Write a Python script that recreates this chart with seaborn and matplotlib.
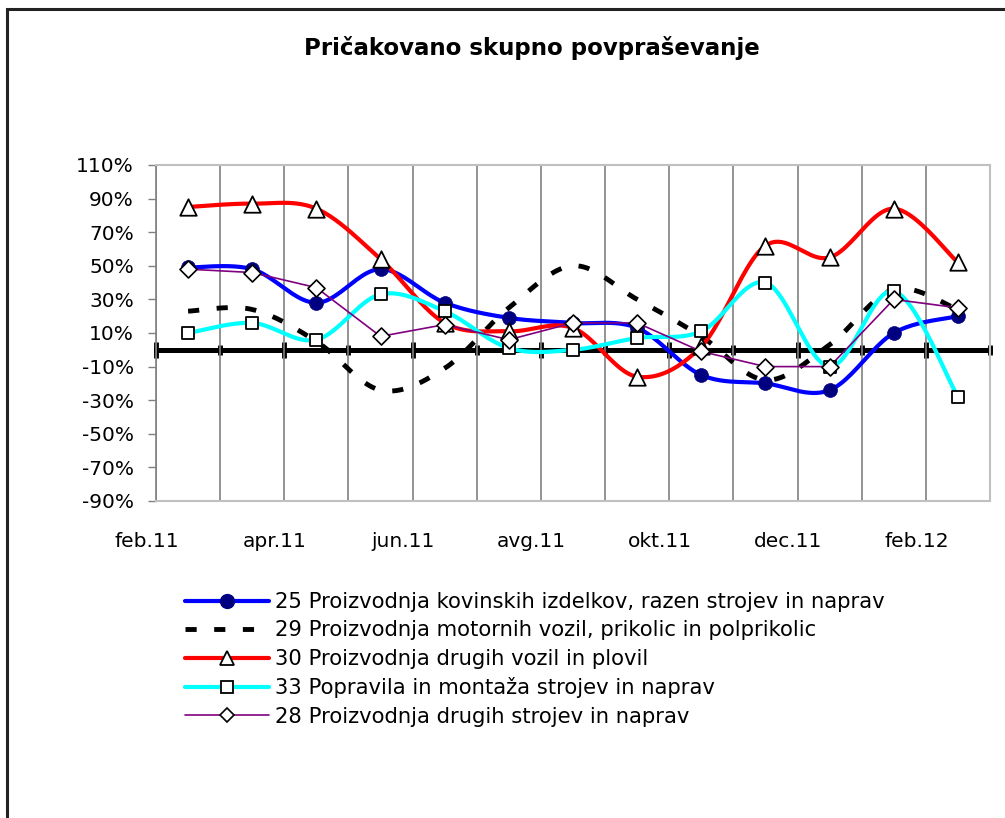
import numpy as np
import pandas as pd
import seaborn as sns
import matplotlib.pyplot as plt
import matplotlib.transforms as mtransforms
from matplotlib.lines import Line2D
from matplotlib.patches import Rectangle

# months on the category axis
months = ['feb.11', 'mar.11', 'apr.11', 'maj.11', 'jun.11', 'jul.11', 'avg.11',
          'sep.11', 'okt.11', 'nov.11', 'dec.11', 'jan.12', 'feb.12']

# values in %
s25 = [49, 48, 28, 48, 28, 19, 16, 13, -15, -20, -24, 10, 20]
s29 = [23, 24, 5, -24, -11, 25, 50, 30, 8, -18, 3, 36, 24]
s30 = [85, 87, 84, 54, 16, 11, 13, -16, 2, 62, 55, 84, 52]
s33 = [10, 16, 6, 33, 23, 1, 0, 7, 11, 40, -10, 35, -28]
s28 = [48, 46, 37, 8, 15, 6, 16, 16, -1, -10, -10, 30, 25]

names = ['25 Proizvodnja kovinskih izdelkov, razen strojev in naprav',
         '29 Proizvodnja motornih vozil, prikolic in polprikolic',
         '30 Proizvodnja drugih vozil in plovil',
         '33 Popravila in montaža strojev in naprav',
         '28 Proizvodnja drugih strojev in naprav']

yticks = list(range(-90, 111, 20))

xpos = np.arange(len(months)) + 0.5


def smooth(x, y, n=24):
    # excel style smoothed line (catmull-rom through the points)
    p = np.column_stack([x, y]).astype(float)
    pp = np.vstack([p[0], p, p[-1]])
    out = []
    for i in range(len(p) - 1):
        p0, p1, p2, p3 = pp[i], pp[i + 1], pp[i + 2], pp[i + 3]
        t = np.linspace(0, 1, n, endpoint=(i == len(p) - 2))[:, None]
        c = 0.5 * (2 * p1 + (-p0 + p2) * t + (2 * p0 - 5 * p1 + 4 * p2 - p3) * t ** 2
                   + (-p0 + 3 * p1 - 3 * p2 + p3) * t ** 3)
        out.append(c)
    out = np.vstack(out)
    return pd.DataFrame({'x': out[:, 0], 'y': out[:, 1]})


sns.set_style('white')
plt.rcParams['font.family'] = ['DejaVu Sans']
plt.rcParams['text.color'] = 'black'
plt.rcParams['xtick.labelcolor'] = 'black'
plt.rcParams['ytick.labelcolor'] = 'black'

fig = plt.figure(figsize=(10.05, 8.18), dpi=100)
ax = fig.add_axes([156 / 1005, 1 - 501 / 818, 834 / 1005, 336 / 818])

# series
d = smooth(xpos, s25)
sns.lineplot(data=d, x='x', y='y', color='#0000FF', lw=3, errorbar=None, ax=ax, zorder=3)
sns.scatterplot(x=xpos, y=s25, marker='o', s=100, color='#000080', edgecolor='#000080',
                linewidth=0.5, ax=ax, zorder=4)

d = smooth(xpos, s29)
sns.lineplot(data=d, x='x', y='y', color='black', lw=3.5, linestyle=(0, (2.3, 3.6)),
             errorbar=None, ax=ax, zorder=3)

d = smooth(xpos, s30)
sns.lineplot(data=d, x='x', y='y', color='#FF0000', lw=3, errorbar=None, ax=ax, zorder=3)
sns.scatterplot(x=xpos, y=s30, marker='^', s=140, color='white', edgecolor='black',
                linewidth=1.3, ax=ax, zorder=4)

d = smooth(xpos, s33)
sns.lineplot(data=d, x='x', y='y', color='#00FFFF', lw=3, errorbar=None, ax=ax, zorder=3)
sns.scatterplot(x=xpos, y=s33, marker='s', s=85, color='white', edgecolor='black',
                linewidth=1.3, ax=ax, zorder=4)

sns.lineplot(x=xpos, y=s28, color='#800080', lw=1.2, errorbar=None, ax=ax, zorder=3)
sns.scatterplot(x=xpos, y=s28, marker='D', s=75, color='white', edgecolor='black',
                linewidth=1.2, ax=ax, zorder=4)

ax.set_xlabel('')
ax.set_ylabel('')

# y axis
ax.set_yticks(yticks)
ax.set_yticklabels([f'{v}%' for v in yticks])
ax.tick_params(axis='y', direction='out', length=6, width=1, color='#808080',
               labelsize=14.5, pad=10, left=True)

# x axis: labels every two months (a bit left of the boundary), grid between categories
ax.set_xticks(np.arange(0, len(months), 2))
ax.set_xticklabels(months[::2])
ax.tick_params(axis='x', length=0, labelsize=14.5, pad=22)
shift = mtransforms.ScaledTranslation(-0.095, 0, fig.dpi_scale_trans)
for lab in ax.get_xticklabels():
    lab.set_transform(lab.get_transform() + shift)
ax.set_xticks(np.arange(1, len(months), 2), minor=True)
ax.tick_params(axis='x', which='minor', length=0)
ax.grid(False)
ax.grid(True, which='both', axis='x', color='#808080', lw=1.2)

ax.set_xlim(0, len(months))
ax.set_ylim(-90, 110)

for side in ['top', 'right', 'bottom']:
    ax.spines[side].set_color('#C0C0C0')
    ax.spines[side].set_linewidth(1.5)
ax.spines['left'].set_color('#808080')
ax.spines['left'].set_linewidth(1.2)

# zero line with tick marks
sec = ax.secondary_xaxis(90 / 200)
sec.patch.set_visible(False)
sec.spines['bottom'].set_color('black')
sec.spines['bottom'].set_linewidth(3.6)
sec.set_xticks(np.arange(0, len(months) + 1, 2))
sec.set_xticks(np.arange(1, len(months) + 1, 2), minor=True)
sec.tick_params(which='major', direction='inout', length=12, width=3.5, color='black',
                labelbottom=False)
sec.tick_params(which='minor', direction='inout', length=7, width=3.5, color='black')

# title
fig.text(532 / 1005, 1 - 48 / 818, 'Pričakovano skupno povpraševanje',
         ha='center', va='center', fontsize=16.5, fontweight='bold', color='black')

# legend
handles = [
    Line2D([], [], color='#0000FF', lw=3, marker='o', ms=10, mfc='#000080', mec='#000080'),
    Line2D([], [], color='black', lw=3.5, linestyle=(0, (2.3, 3.6))),
    Line2D([], [], color='#FF0000', lw=3, marker='^', ms=10, mfc='white', mec='black', mew=1.3),
    Line2D([], [], color='#00FFFF', lw=3, marker='s', ms=8, mfc='white', mec='black', mew=1.3),
    Line2D([], [], color='#800080', lw=1.2, marker='D', ms=7.5, mfc='white', mec='black', mew=1.2),
]
fig.legend(handles, names, loc='upper left', bbox_to_anchor=(185 / 1005, 1 - 592 / 818),
           frameon=False, fontsize=15.2, handlelength=4.0, handletextpad=0.24,
           labelspacing=0.4, borderpad=0, borderaxespad=0)

# chart border (cut at the right and bottom)
fig.patches.append(Rectangle((7 / 1005, -0.1), 1.2, 1.1 - 9 / 818, transform=fig.transFigure,
                             fill=False, edgecolor='#222222', lw=2.2))

fig.savefig('out.png', dpi=100)
